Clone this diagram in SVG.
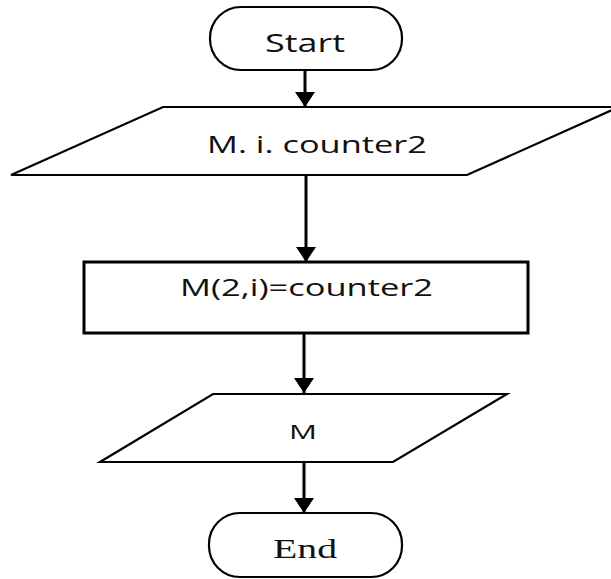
<svg xmlns="http://www.w3.org/2000/svg" width="611" height="579" viewBox="0 0 611 579">
<style>
  .shape { fill: #ffffff; stroke: #000000; stroke-width: 2.2; }
  .proc { fill: #ffffff; stroke: #000000; stroke-width: 3; }
  .sans { font-family: "Open Sans", "Liberation Sans", sans-serif; fill: #111111; }
  .serif { font-family: "Liberation Serif", serif; fill: #111111; }
  .conn { stroke: #000000; stroke-width: 3; fill: none; }
</style>
<defs>
  <marker id="arrow" markerUnits="userSpaceOnUse" markerWidth="20" markerHeight="16" viewBox="0 0 20 16" refX="10" refY="15" orient="0">
    <polygon points="0,0 20,0 10,15" fill="#000000"/>
  </marker>
</defs>
<rect width="611" height="579" fill="#ffffff"/>
<g id="connectors">
  <path class="conn" d="M305,70 L305,107" marker-end="url(#arrow)"/>
  <path class="conn" d="M306,175 L306,262" marker-end="url(#arrow)"/>
  <path class="conn" d="M304,333 L304,393" marker-end="url(#arrow)"/>
  <path class="conn" d="M304,462 L304,513" marker-end="url(#arrow)"/>
</g>
<g id="start">
  <rect class="shape" x="210" y="7" width="192" height="63" rx="31" ry="31"/>
  <text class="sans" x="265" y="52" font-size="26" textLength="80" lengthAdjust="spacingAndGlyphs">Start</text>
</g>
<g id="input">
  <polygon class="shape" points="163,107 619,107 467,175 11,175"/>
  <text class="sans" x="207" y="153" font-size="23" textLength="220" lengthAdjust="spacingAndGlyphs">M. i. counter2</text>
</g>
<g id="assign">
  <rect class="proc" x="84" y="262" width="444" height="71"/>
  <text class="sans" x="180" y="296" font-size="23" textLength="253" lengthAdjust="spacingAndGlyphs">M(2,i)=counter2</text>
</g>
<g id="output">
  <polygon class="shape" points="213,394 507,394 393,462 100,462"/>
  <text class="sans" x="289" y="439" font-size="20" textLength="28" lengthAdjust="spacingAndGlyphs">M</text>
</g>
<g id="end">
  <rect class="shape" x="209" y="513" width="193" height="64" rx="31" ry="31"/>
  <text class="serif" x="273" y="558" font-size="28" textLength="64" lengthAdjust="spacingAndGlyphs">End</text>
</g>
</svg>
